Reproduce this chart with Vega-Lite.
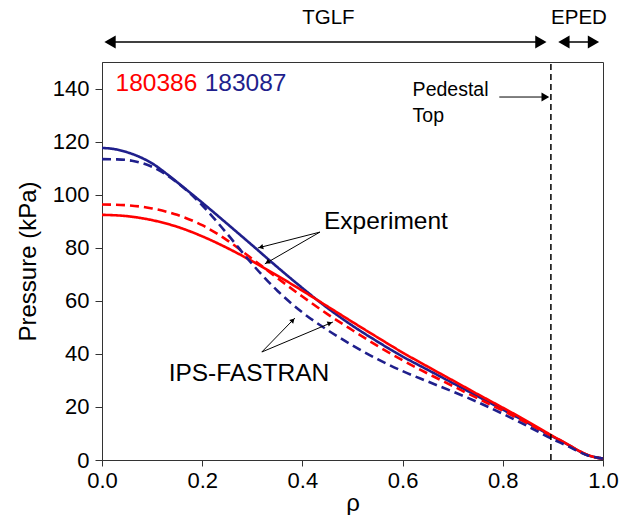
{
  "$schema": "https://vega.github.io/schema/vega-lite/v6.json",
  "width": 501,
  "height": 398,
  "autosize": {"type": "none"},
  "padding": {"left": 102, "top": 62, "right": 18, "bottom": 55},
  "background": "white",
  "config": {
    "font": "Liberation Sans",
    "view": {"stroke": "#333", "strokeWidth": 1},
    "axis": {"grid": false, "domainColor": "#333", "tickColor": "#333", "labelColor": "black", "titleColor": "black", "labelFont": "Liberation Sans", "titleFont": "Liberation Sans", "titleFontWeight": "normal"}
  },
  "datasets": {
    "curves": [
      {"rho": 0.0, "p": 117.6, "series": "183087 Experiment"},
      {"rho": 0.02, "p": 117.3, "series": "183087 Experiment"},
      {"rho": 0.05, "p": 116.0, "series": "183087 Experiment"},
      {"rho": 0.08, "p": 113.8, "series": "183087 Experiment"},
      {"rho": 0.1, "p": 111.8, "series": "183087 Experiment"},
      {"rho": 0.13, "p": 107.7, "series": "183087 Experiment"},
      {"rho": 0.15, "p": 104.7, "series": "183087 Experiment"},
      {"rho": 0.2, "p": 97.0, "series": "183087 Experiment"},
      {"rho": 0.25, "p": 89.0, "series": "183087 Experiment"},
      {"rho": 0.3, "p": 80.9, "series": "183087 Experiment"},
      {"rho": 0.35, "p": 72.7, "series": "183087 Experiment"},
      {"rho": 0.4, "p": 64.8, "series": "183087 Experiment"},
      {"rho": 0.45, "p": 57.3, "series": "183087 Experiment"},
      {"rho": 0.5, "p": 50.6, "series": "183087 Experiment"},
      {"rho": 0.55, "p": 44.6, "series": "183087 Experiment"},
      {"rho": 0.6, "p": 39.0, "series": "183087 Experiment"},
      {"rho": 0.65, "p": 34.0, "series": "183087 Experiment"},
      {"rho": 0.7, "p": 29.0, "series": "183087 Experiment"},
      {"rho": 0.75, "p": 24.0, "series": "183087 Experiment"},
      {"rho": 0.8, "p": 19.0, "series": "183087 Experiment"},
      {"rho": 0.85, "p": 14.0, "series": "183087 Experiment"},
      {"rho": 0.9, "p": 8.8, "series": "183087 Experiment"},
      {"rho": 0.93, "p": 5.8, "series": "183087 Experiment"},
      {"rho": 0.95, "p": 3.6, "series": "183087 Experiment"},
      {"rho": 0.97, "p": 1.8, "series": "183087 Experiment"},
      {"rho": 0.99, "p": 0.9, "series": "183087 Experiment"},
      {"rho": 1.0, "p": 0.6, "series": "183087 Experiment"},

      {"rho": 0.0, "p": 92.4, "series": "180386 Experiment"},
      {"rho": 0.05, "p": 91.9, "series": "180386 Experiment"},
      {"rho": 0.1, "p": 90.4, "series": "180386 Experiment"},
      {"rho": 0.15, "p": 87.9, "series": "180386 Experiment"},
      {"rho": 0.2, "p": 84.3, "series": "180386 Experiment"},
      {"rho": 0.25, "p": 79.9, "series": "180386 Experiment"},
      {"rho": 0.3, "p": 74.9, "series": "180386 Experiment"},
      {"rho": 0.35, "p": 69.5, "series": "180386 Experiment"},
      {"rho": 0.4, "p": 63.8, "series": "180386 Experiment"},
      {"rho": 0.45, "p": 57.9, "series": "180386 Experiment"},
      {"rho": 0.5, "p": 52.0, "series": "180386 Experiment"},
      {"rho": 0.55, "p": 46.2, "series": "180386 Experiment"},
      {"rho": 0.6, "p": 40.5, "series": "180386 Experiment"},
      {"rho": 0.65, "p": 35.2, "series": "180386 Experiment"},
      {"rho": 0.7, "p": 30.0, "series": "180386 Experiment"},
      {"rho": 0.75, "p": 24.8, "series": "180386 Experiment"},
      {"rho": 0.8, "p": 19.7, "series": "180386 Experiment"},
      {"rho": 0.85, "p": 14.5, "series": "180386 Experiment"},
      {"rho": 0.9, "p": 9.0, "series": "180386 Experiment"},
      {"rho": 0.93, "p": 5.9, "series": "180386 Experiment"},
      {"rho": 0.95, "p": 3.7, "series": "180386 Experiment"},
      {"rho": 0.97, "p": 1.9, "series": "180386 Experiment"},
      {"rho": 0.99, "p": 0.8, "series": "180386 Experiment"},
      {"rho": 1.0, "p": 0.5, "series": "180386 Experiment"},

      {"rho": 0.0, "p": 96.3, "series": "180386 IPS-FASTRAN"},
      {"rho": 0.05, "p": 96.0, "series": "180386 IPS-FASTRAN"},
      {"rho": 0.1, "p": 94.8, "series": "180386 IPS-FASTRAN"},
      {"rho": 0.15, "p": 92.4, "series": "180386 IPS-FASTRAN"},
      {"rho": 0.2, "p": 88.5, "series": "180386 IPS-FASTRAN"},
      {"rho": 0.25, "p": 82.8, "series": "180386 IPS-FASTRAN"},
      {"rho": 0.3, "p": 75.8, "series": "180386 IPS-FASTRAN"},
      {"rho": 0.35, "p": 68.6, "series": "180386 IPS-FASTRAN"},
      {"rho": 0.4, "p": 61.6, "series": "180386 IPS-FASTRAN"},
      {"rho": 0.45, "p": 55.0, "series": "180386 IPS-FASTRAN"},
      {"rho": 0.5, "p": 48.9, "series": "180386 IPS-FASTRAN"},
      {"rho": 0.55, "p": 43.0, "series": "180386 IPS-FASTRAN"},
      {"rho": 0.6, "p": 37.6, "series": "180386 IPS-FASTRAN"},
      {"rho": 0.65, "p": 32.6, "series": "180386 IPS-FASTRAN"},
      {"rho": 0.7, "p": 27.9, "series": "180386 IPS-FASTRAN"},
      {"rho": 0.75, "p": 23.2, "series": "180386 IPS-FASTRAN"},
      {"rho": 0.8, "p": 18.6, "series": "180386 IPS-FASTRAN"},
      {"rho": 0.85, "p": 13.7, "series": "180386 IPS-FASTRAN"},
      {"rho": 0.9, "p": 8.6, "series": "180386 IPS-FASTRAN"},
      {"rho": 0.93, "p": 5.6, "series": "180386 IPS-FASTRAN"},
      {"rho": 0.95, "p": 3.5, "series": "180386 IPS-FASTRAN"},
      {"rho": 0.97, "p": 1.8, "series": "180386 IPS-FASTRAN"},
      {"rho": 0.99, "p": 0.8, "series": "180386 IPS-FASTRAN"},
      {"rho": 1.0, "p": 0.5, "series": "180386 IPS-FASTRAN"},

      {"rho": 0.0, "p": 113.4, "series": "183087 IPS-FASTRAN"},
      {"rho": 0.03, "p": 113.3, "series": "183087 IPS-FASTRAN"},
      {"rho": 0.06, "p": 112.8, "series": "183087 IPS-FASTRAN"},
      {"rho": 0.1, "p": 110.5, "series": "183087 IPS-FASTRAN"},
      {"rho": 0.15, "p": 104.6, "series": "183087 IPS-FASTRAN"},
      {"rho": 0.2, "p": 96.0, "series": "183087 IPS-FASTRAN"},
      {"rho": 0.25, "p": 85.2, "series": "183087 IPS-FASTRAN"},
      {"rho": 0.3, "p": 73.8, "series": "183087 IPS-FASTRAN"},
      {"rho": 0.35, "p": 63.8, "series": "183087 IPS-FASTRAN"},
      {"rho": 0.4, "p": 55.6, "series": "183087 IPS-FASTRAN"},
      {"rho": 0.45, "p": 49.0, "series": "183087 IPS-FASTRAN"},
      {"rho": 0.5, "p": 43.2, "series": "183087 IPS-FASTRAN"},
      {"rho": 0.55, "p": 38.0, "series": "183087 IPS-FASTRAN"},
      {"rho": 0.6, "p": 33.5, "series": "183087 IPS-FASTRAN"},
      {"rho": 0.65, "p": 29.6, "series": "183087 IPS-FASTRAN"},
      {"rho": 0.7, "p": 25.8, "series": "183087 IPS-FASTRAN"},
      {"rho": 0.75, "p": 21.8, "series": "183087 IPS-FASTRAN"},
      {"rho": 0.8, "p": 17.4, "series": "183087 IPS-FASTRAN"},
      {"rho": 0.85, "p": 12.7, "series": "183087 IPS-FASTRAN"},
      {"rho": 0.9, "p": 7.8, "series": "183087 IPS-FASTRAN"},
      {"rho": 0.93, "p": 5.2, "series": "183087 IPS-FASTRAN"},
      {"rho": 0.95, "p": 3.3, "series": "183087 IPS-FASTRAN"},
      {"rho": 0.97, "p": 1.7, "series": "183087 IPS-FASTRAN"},
      {"rho": 0.99, "p": 0.8, "series": "183087 IPS-FASTRAN"},
      {"rho": 1.0, "p": 0.5, "series": "183087 IPS-FASTRAN"}
    ],
    "thinArrows": [
      {"x": 0.435, "y": 85.9, "x2": 0.311, "y2": 79.9},
      {"x": 0.435, "y": 85.9, "x2": 0.325, "y2": 73.9},
      {"x": 0.319, "y": 40.7, "x2": 0.385, "y2": 53.5},
      {"x": 0.319, "y": 40.7, "x2": 0.461, "y2": 52.0},
      {"x": 0.793, "y": 136.8, "x2": 0.89, "y2": 136.8}
    ],
    "topArrows": [
      {"x": 0.01, "y": 157.5, "x2": 0.88, "y2": 157.5},
      {"x": 0.915, "y": 157.5, "x2": 0.985, "y2": 157.5}
    ],
    "labels": [
      {"x": 0.452, "y": 166.6, "text": "TGLF"},
      {"x": 0.952, "y": 166.6, "text": "EPED"}
    ]
  },
  "layer": [
    {
      "data": {"name": "curves"},
      "mark": {"type": "line", "strokeWidth": 2.6, "interpolate": "monotone"},
      "encoding": {
        "x": {"field": "rho", "type": "quantitative", "scale": {"domain": [0, 1], "nice": false}, "axis": {"values": [0, 0.2, 0.4, 0.6, 0.8, 1.0], "format": ".1f", "labelFontSize": 22, "tickSize": 6, "labelPadding": 4, "title": "ρ", "titleFontSize": 24, "titlePadding": 0, "labelFlush": false}},
        "y": {"field": "p", "type": "quantitative", "scale": {"domain": [0, 150], "nice": false}, "axis": {"values": [0, 20, 40, 60, 80, 100, 120, 140], "labelFontSize": 22, "tickSize": 7, "labelPadding": 6, "title": "Pressure (kPa)", "titleFontSize": 24, "titlePadding": 12}},
        "color": {"field": "series", "type": "nominal", "legend": null, "scale": {"domain": ["183087 Experiment", "180386 Experiment", "180386 IPS-FASTRAN", "183087 IPS-FASTRAN"], "range": ["#1f1f8c", "#ff0000", "#ff0000", "#1f1f8c"]}},
        "strokeDash": {"field": "series", "type": "nominal", "legend": null, "scale": {"domain": ["183087 Experiment", "180386 Experiment", "180386 IPS-FASTRAN", "183087 IPS-FASTRAN"], "range": [[1, 0], [1, 0], [9, 5], [9, 5]]}}
      }
    },
    {
      "data": {"values": [{"x": 0.896, "y": 0, "y2": 150}]},
      "mark": {"type": "rule", "color": "black", "strokeWidth": 1.5, "strokeDash": [6, 4]},
      "encoding": {"x": {"field": "x", "type": "quantitative"}, "y": {"field": "y", "type": "quantitative"}, "y2": {"field": "y2"}}
    },
    {
      "data": {"name": "thinArrows"},
      "mark": {"type": "rule", "color": "black", "strokeWidth": 1},
      "encoding": {"x": {"field": "x", "type": "quantitative"}, "y": {"field": "y", "type": "quantitative"}, "x2": {"field": "x2"}, "y2": {"field": "y2"}}
    },
    {
      "data": {"name": "topArrows"},
      "mark": {"type": "rule", "color": "black", "strokeWidth": 1.5},
      "encoding": {"x": {"field": "x", "type": "quantitative"}, "y": {"field": "y", "type": "quantitative"}, "x2": {"field": "x2"}, "y2": {"field": "y2"}}
    },
    {
      "data": {"values": [{"x": 0.016, "y": 157.5}, {"x": 0.922, "y": 157.5}]},
      "mark": {"type": "point", "shape": "triangle-left", "filled": true, "color": "black", "opacity": 1, "size": 170},
      "encoding": {"x": {"field": "x", "type": "quantitative"}, "y": {"field": "y", "type": "quantitative"}}
    },
    {
      "data": {"values": [{"x": 0.876, "y": 157.5}, {"x": 0.981, "y": 157.5}]},
      "mark": {"type": "point", "shape": "triangle-right", "filled": true, "color": "black", "opacity": 1, "size": 170},
      "encoding": {"x": {"field": "x", "type": "quantitative"}, "y": {"field": "y", "type": "quantitative"}}
    },
    {
      "data": {"values": [{"x": 0.885, "y": 136.8}]},
      "mark": {"type": "point", "shape": "triangle-right", "filled": true, "color": "black", "opacity": 1, "size": 80},
      "encoding": {"x": {"field": "x", "type": "quantitative"}, "y": {"field": "y", "type": "quantitative"}}
    },
    {
      "data": {"values": [{"x": 0.317, "y": 80.2}]},
      "mark": {"type": "point", "shape": "triangle-right", "filled": true, "color": "black", "opacity": 1, "size": 30, "angle": 165.5},
      "encoding": {"x": {"field": "x", "type": "quantitative"}, "y": {"field": "y", "type": "quantitative"}}
    },
    {
      "data": {"values": [{"x": 0.33, "y": 74.5}]},
      "mark": {"type": "point", "shape": "triangle-right", "filled": true, "color": "black", "opacity": 1, "size": 30, "angle": 149.8},
      "encoding": {"x": {"field": "x", "type": "quantitative"}, "y": {"field": "y", "type": "quantitative"}}
    },
    {
      "data": {"values": [{"x": 0.381, "y": 52.7}]},
      "mark": {"type": "point", "shape": "triangle-right", "filled": true, "color": "black", "opacity": 1, "size": 30, "angle": 314.2},
      "encoding": {"x": {"field": "x", "type": "quantitative"}, "y": {"field": "y", "type": "quantitative"}}
    },
    {
      "data": {"values": [{"x": 0.455, "y": 51.6}]},
      "mark": {"type": "point", "shape": "triangle-right", "filled": true, "color": "black", "opacity": 1, "size": 30, "angle": 337.1},
      "encoding": {"x": {"field": "x", "type": "quantitative"}, "y": {"field": "y", "type": "quantitative"}}
    },
    {
      "data": {"name": "labels"},
      "mark": {"type": "text", "fontSize": 20.5, "color": "black", "align": "center", "baseline": "middle"},
      "encoding": {"x": {"field": "x", "type": "quantitative"}, "y": {"field": "y", "type": "quantitative"}, "text": {"field": "text"}}
    },
    {
      "data": {"values": [{"x": 0.443, "y": 89.7, "text": "Experiment"}, {"x": 0.133, "y": 32.4, "text": "IPS-FASTRAN"}]},
      "mark": {"type": "text", "fontSize": 24.5, "color": "black", "align": "left", "baseline": "middle"},
      "encoding": {"x": {"field": "x", "type": "quantitative"}, "y": {"field": "y", "type": "quantitative"}, "text": {"field": "text"}}
    },
    {
      "data": {"values": [{"x": 0.62, "y": 139.3, "text": "Pedestal"}, {"x": 0.62, "y": 129.8, "text": "Top"}]},
      "mark": {"type": "text", "fontSize": 19.5, "color": "black", "align": "left", "baseline": "middle"},
      "encoding": {"x": {"field": "x", "type": "quantitative"}, "y": {"field": "y", "type": "quantitative"}, "text": {"field": "text"}}
    },
    {
      "data": {"values": [{"x": 0.027, "y": 141.7, "text": "180386"}]},
      "mark": {"type": "text", "fontSize": 24.5, "color": "#ff0000", "align": "left", "baseline": "middle"},
      "encoding": {"x": {"field": "x", "type": "quantitative"}, "y": {"field": "y", "type": "quantitative"}, "text": {"field": "text"}}
    },
    {
      "data": {"values": [{"x": 0.205, "y": 141.7, "text": "183087"}]},
      "mark": {"type": "text", "fontSize": 24.5, "color": "#1f1f8c", "align": "left", "baseline": "middle"},
      "encoding": {"x": {"field": "x", "type": "quantitative"}, "y": {"field": "y", "type": "quantitative"}, "text": {"field": "text"}}
    }
  ]
}
